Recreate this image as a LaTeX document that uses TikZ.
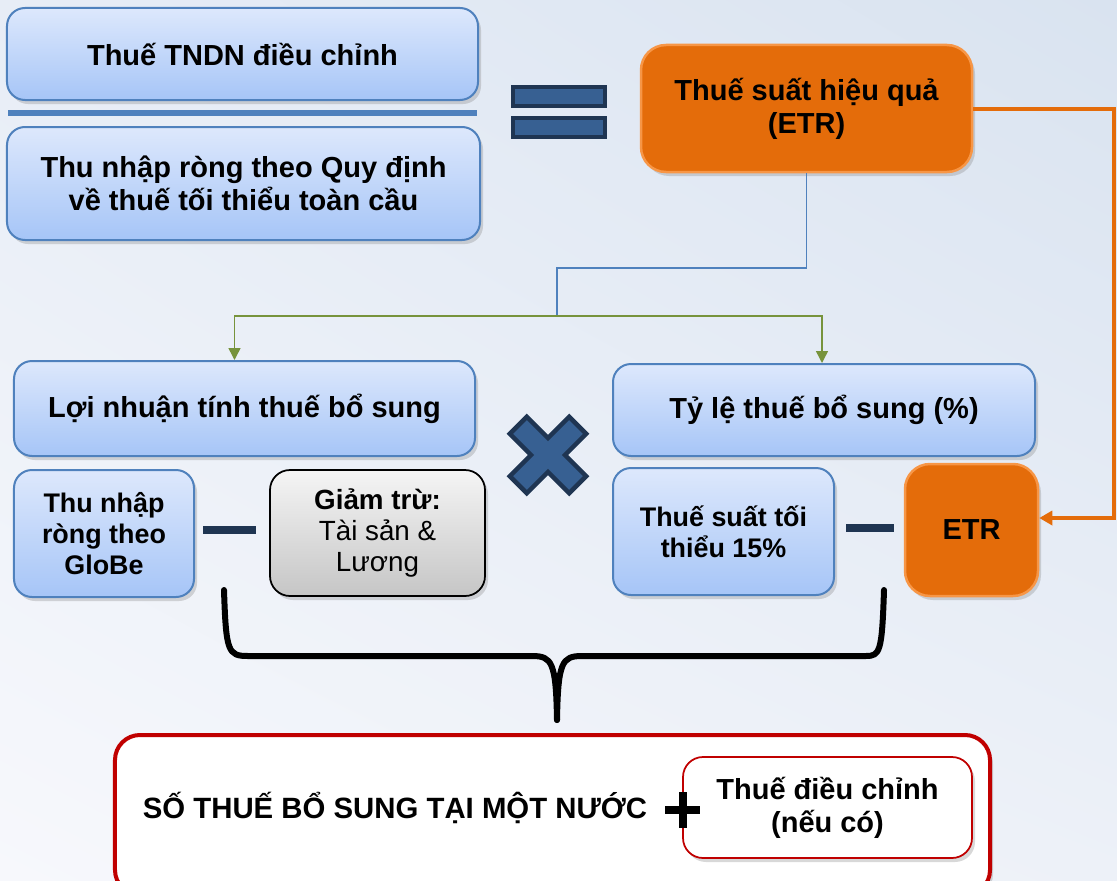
\documentclass[tikz,border=0pt]{standalone}
\usepackage{fontspec}
\setmainfont{Liberation Sans}
\usetikzlibrary{arrows.meta,shadows,shadings}
\definecolor{boxline}{HTML}{4F81BD}
\definecolor{bluetop}{HTML}{DDE8FC}
\definecolor{bluebot}{HTML}{A6C5F7}
\definecolor{orfill}{HTML}{E46C0A}
\definecolor{orline}{HTML}{F79646}
\definecolor{navy}{HTML}{1F3552}
\definecolor{navyfill}{HTML}{376092}
\definecolor{redline}{HTML}{C00000}
\definecolor{grline}{HTML}{77933C}
\definecolor{bgul}{HTML}{E7EDF6}
\definecolor{bgur}{HTML}{D9E3F0}
\definecolor{bgll}{HTML}{F7F8FC}
\definecolor{bglr}{HTML}{EDF1F8}
\begin{document}
\begin{tikzpicture}[x=0.2mm,y=-0.2mm,semithick,
  shad/.style={drop shadow={opacity=0.3,shadow xshift=0.6mm,shadow yshift=-0.8mm}},
  txt/.style={align=center,inner sep=0pt,font=\fontsize{16.5}{18.8}\selectfont\bfseries},
  small/.style={font=\fontsize{15.3}{17.6}\selectfont\bfseries},
  bluebox/.style={txt,shad,draw=boxline,line width=0.4mm,rounded corners=3.6mm,top color=bluetop,bottom color=bluebot},
  orbox/.style={txt,shad,draw=orline,line width=0.5mm,rounded corners=5mm,fill=orfill},
  graybox/.style={txt,shad,draw=black,line width=0.35mm,rounded corners=4mm,top color=gray!8,bottom color=gray!45},
  eqbar/.style={draw=navy,line width=0.8mm,fill=navyfill,minimum width=18.4mm,minimum height=3.8mm,inner sep=0pt},
  minus/.style={navy,line width=1.6mm},
  blueline/.style={boxline,line width=0.3mm},
  greenline/.style={grline,line width=0.3mm,-{Triangle[length=2.4mm,width=2.4mm]}},
  orline/.style={orfill,line width=0.8mm,-{Triangle[length=2.6mm,width=2.8mm]}},
  brace/.style={black,line width=1.2mm,line cap=round,line join=round}]
\useasboundingbox (0,0) rectangle (1117,880);
\shade[upper left=bgul,upper right=bgur,lower left=bgll,lower right=bglr] (0,0) rectangle (1117,880);

\node[bluebox,minimum width=94.2mm,minimum height=18.4mm] (tnd) at (242.5,54) {Thuế TNDN điều chỉnh};
\draw[boxline,line width=1.2mm] (8,113) -- (477,113);
\node[bluebox,minimum width=94.6mm,minimum height=22.6mm] (inc) at (243.5,183.5) {Thu nhập ròng theo Quy định\\về thuế tối thiểu toàn cầu};
\node[eqbar] (eqa) at (559,96.5) {};
\node[eqbar] (eqb) at (559,127.5) {};
\node[orbox,minimum width=66.2mm,minimum height=25.4mm] (etr) at (806.5,108.5) {Thuế suất hiệu quả\\(ETR)};

\node[bluebox,minimum width=92.2mm,minimum height=19mm] (ln) at (244.5,408.5) {Lợi nhuận tính thuế bổ sung};
\node[bluebox,minimum width=84.4mm,minimum height=18.4mm] (tl) at (824,410) {Tỷ lệ thuế bổ sung (\%)};
\node[bluebox,small,minimum width=36mm,minimum height=25.4mm] (tn) at (104,533.5) {Thu nhập\\ròng theo\\GloBe};
\node[graybox,minimum width=43mm,minimum height=25.2mm,font=\fontsize{15.8}{17.5}\selectfont\bfseries] (gt) at (377.5,533) {Giảm trừ:\\\mdseries Tài sản \&\\\mdseries Lương};
\node[bluebox,small,minimum width=44.2mm,minimum height=25.4mm] (ts) at (723.5,531.5) {Thuế suất tối\\thiểu 15\%};
\node[orbox,minimum width=26.6mm,minimum height=26.4mm] (etrb) at (971.5,530) {ETR};

\draw[minus] (203,530) -- (256,530);
\draw[minus] (846,528) -- (894,528);
\begin{scope}[shift={(548,455)},rotate=45]
\filldraw[draw=navy,fill=navyfill,line width=0.9mm,line join=miter] (-12,-42) -- (12,-42) -- (12,-12) -- (42,-12) -- (42,12) -- (12,12) -- (12,42) -- (-12,42) -- (-12,12) -- (-42,12) -- (-42,-12) -- (-12,-12) -- cycle;
\end{scope}

\coordinate (sp) at (557,316);
\draw[blueline] (etr.south) |- (557,268) -- (sp);
\draw[greenline] (sp) -| ([xshift=-2mm]ln.north);
\draw[greenline] (sp) -| ([xshift=-0.4mm]tl.north);
\draw[orline] (etr.east) -- ++(141,0) |- ([yshift=2.4mm]etrb.east);

\draw[brace] (224,590) .. controls (226,652) and (228,656) .. (248,656) -- (532,656) .. controls (552,656) and (556,662) .. (557,720);
\draw[brace] (884,590) .. controls (882,652) and (880,656) .. (866,656) -- (582,656) .. controls (562,656) and (558,662) .. (557,720);

\node[shad,draw=redline,line width=0.8mm,fill=white,rounded corners=5mm,minimum width=175mm,minimum height=32mm] (tong) at (552.5,815) {};
\node[txt,font=\fontsize{16.7}{19}\selectfont\bfseries] (sthue) at (395,808) {SỐ THUẾ BỔ SUNG TẠI MỘT NƯỚC};
\node[txt,shad,draw=redline,line width=0.35mm,fill=white,rounded corners=4mm,minimum width=57.8mm,minimum height=20.2mm] (dc) at (827.5,807.5) {Thuế điều chỉnh\\(nếu có)};
\draw[black,line width=1.5mm] (665,810) -- (700,810) (683,792) -- (683,828);
\end{tikzpicture}
\end{document}
